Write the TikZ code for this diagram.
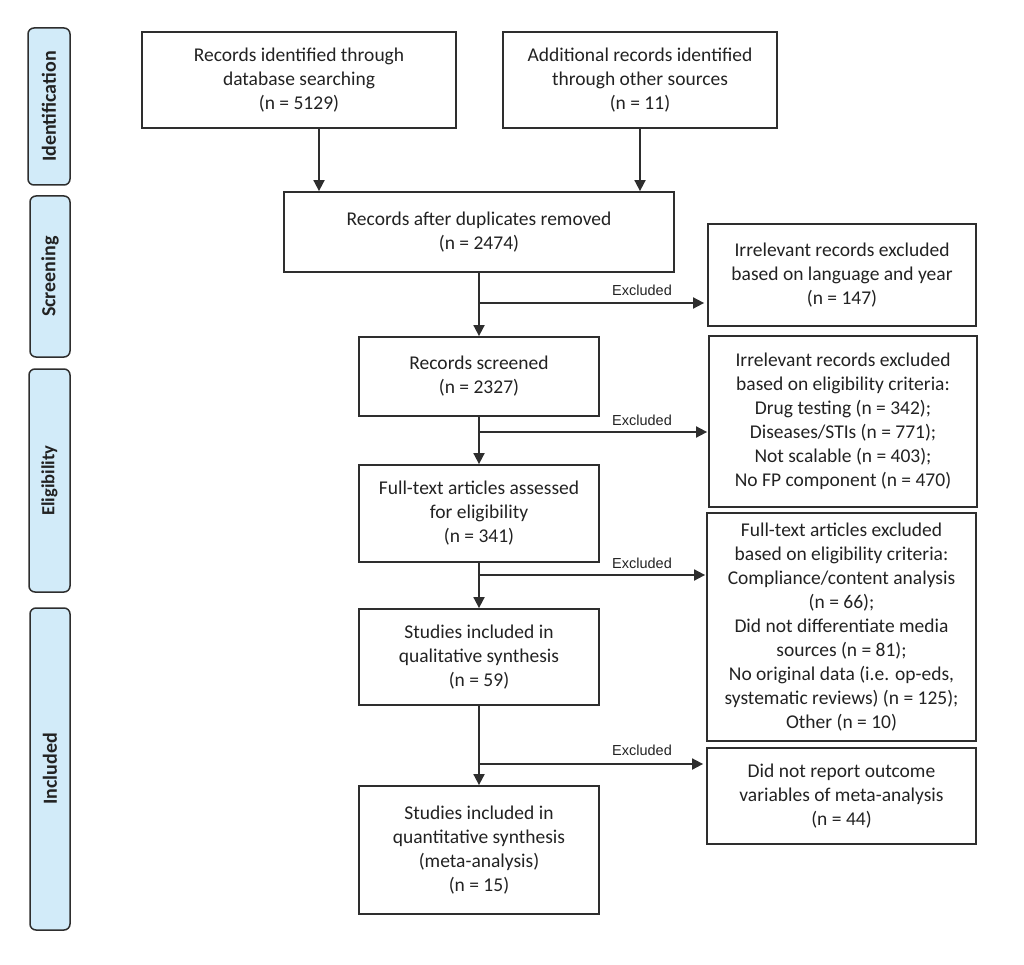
\documentclass[tikz,border=0pt]{standalone}
\usepackage{fontspec}
\setmainfont{Carlito}
\newfontfamily\arialf{Liberation Sans}
\usetikzlibrary{arrows.meta}
\definecolor{linec}{HTML}{2E2E2E}
\definecolor{textc}{HTML}{222222}
\definecolor{sidefill}{HTML}{D2EBF9}
\begin{document}
\begin{tikzpicture}[x=1pt,y=-1pt,
 box/.style={draw=linec, line width=1.8pt, inner sep=0pt, align=center, font=\fontsize{19.5}{24}\selectfont, text=textc},
 side/.style={draw=linec, line width=1.5pt, fill=sidefill, rounded corners=6pt, inner sep=0pt, rotate=90, font=\fontsize{20}{24}\selectfont\bfseries, text=textc},
 arr/.style={draw=linec, line width=1.8pt, -{Triangle[length=11pt,width=11pt]}},
 lbl/.style={font=\arialf\fontsize{14.5}{16}\selectfont, text=textc, inner sep=0pt}]
\useasboundingbox (0,0) rectangle (1024,965);

% side labels
\node[side, minimum width=157pt, minimum height=42pt] (s1) at (49,106.5) {Identification};
\node[side, minimum width=161pt, minimum height=40pt] (s2) at (50,276.5) {Screening};
\node[side, minimum width=223pt, minimum height=41pt, font=\fontsize{18.5}{22}\selectfont\bfseries] (s3) at (49.5,480.5) {Eligibility};
\node[side, minimum width=322pt, minimum height=40pt] (s4) at (50,769) {Included};

% boxes
\node[box, minimum width=314pt, minimum height=96pt] (b1) at (299,80) {Records identified through\\database searching\\(n = 5129)};
\node[box, minimum width=274pt, minimum height=96pt] (b2) at (640,80) {Additional records identified\\through other sources\\(n = 11)};
\node[box, minimum width=390pt, minimum height=80pt] (b3) at (479,232) {Records after duplicates removed\\(n = 2474)};
\node[box, minimum width=268pt, minimum height=102pt] (b5) at (842,275) {Irrelevant records excluded\\based on language and year\\(n = 147)};
\node[box, minimum width=240pt, minimum height=79pt] (b4) at (479,376.5) {Records screened\\(n = 2327)};
\node[box, minimum width=268pt, minimum height=171pt] (b6) at (843,421.5) {Irrelevant records excluded\\based on eligibility criteria:\\Drug testing (n = 342);\\Diseases/STIs (n = 771);\\Not scalable (n = 403);\\No FP component (n = 470)};
\node[box, minimum width=240pt, minimum height=97pt] (b7) at (479,513.5) {Full-text articles assessed\\for eligibility\\(n = 341)};
\node[box, minimum width=269pt, minimum height=228pt] (b8) at (841.5,627) {Full-text articles excluded\\based on eligibility criteria:\\Compliance/content analysis\\(n = 66);\\Did not differentiate media\\sources (n = 81);\\No original data (i.e. op-eds,\\systematic reviews) (n = 125);\\Other (n = 10)};
\node[box, minimum width=240pt, minimum height=96pt] (b9) at (479,657) {Studies included in\\qualitative synthesis\\(n = 59)};
\node[box, minimum width=269pt, minimum height=96pt] (b10) at (841.5,796) {Did not report outcome\\variables of meta-analysis\\(n = 44)};
\node[box, minimum width=240pt, minimum height=128pt] (b11) at (479,850) {Studies included in\\quantitative synthesis\\(meta-analysis)\\(n = 15)};

% top arrows
\coordinate (c1) at (319,0);
\draw[arr] (b1.south -| c1) -- (b3.north -| c1);
\draw[arr] (b2) -- (b2 |- b3.north);

% main column
\draw[arr] (b3) -- (b4);
\draw[arr] (b4) -- (b7);
\draw[arr] (b7) -- (b9);
\draw[arr] (b9) -- (b11);

% excluded branches
\coordinate (j1) at (479,303);
\coordinate (j2) at (479,432);
\coordinate (j3) at (479,575);
\coordinate (j4) at (479,764);
\draw[arr, shorten >=3pt] (j1) -- (j1 -| b5.west);
\draw[arr, shorten >=1pt] (j2) -- (j2 -| b6.west);
\draw[arr, shorten >=1pt] (j3) -- (j3 -| b8.west);
\draw[arr, shorten >=3pt] (j4) -- (j4 -| b10.west);
\node[lbl] (x1) at (642,290) {Excluded};
\node[lbl] (x2) at (642,420) {Excluded};
\node[lbl] (x3) at (642,563) {Excluded};
\node[lbl] (x4) at (642,750) {Excluded};
\end{tikzpicture}
\end{document}
